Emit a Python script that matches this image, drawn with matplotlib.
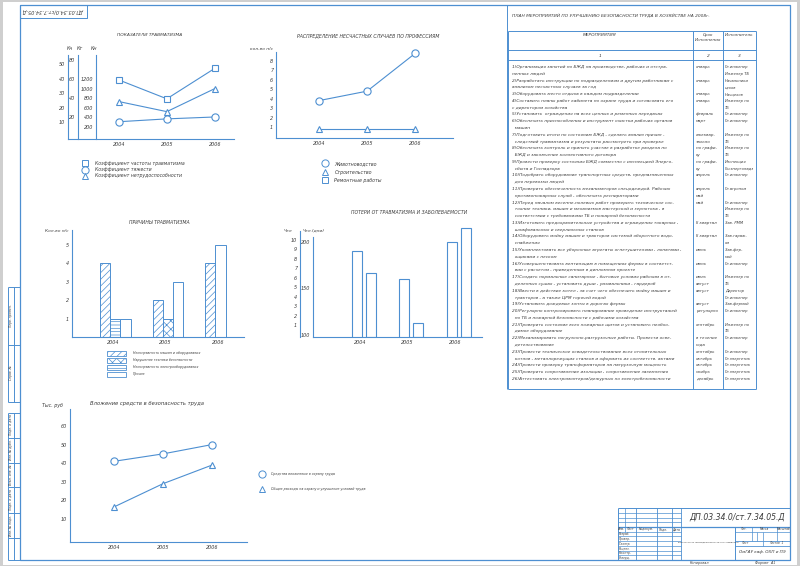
import matplotlib
matplotlib.use("Agg")
from matplotlib import pyplot as plt
from matplotlib import font_manager
from matplotlib.lines import Line2D
from matplotlib.patches import Patch, Rectangle

BLUE = "#4d8fd1"
INK = "#3c3c3c"

# ---------------- data ----------------
years = [2004, 2005, 2006]
year_labels = ["2004", "2005", "2006"]

# показатели травматизма
k_freq = [39, 26, 47]        # Кч
k_sev = [15, 18, 20]         # Кт
k_dis = [730, 520, 1000]     # Кн
ind_names = ["Коэффициент частоты травматизма", "Коэффициент тяжести",
             "Коэффициент нетрудоспособности"]

# распределение по профессиям
prof_livestock = [3.8, 4.8, 8.8]
prof_building = [0.8, 0.8, 0.8]
prof_names = ["Животноводство", "Строительство", "Ремонтные работы"]

# причины травматизма
cause_machines = [4, 2, 4]
cause_safety = [0, 1, 0]
cause_electric = [1, 0, 0]
cause_other = [1, 3, 5]
cause_names = ["Неисправность машин и оборудования", "Нарушение техники безопасности",
               "Неисправность электрооборудования", "Прочие"]

# потери от травматизма
loss_people = [8.8, 5.9, 9.8]       # чел
loss_days = [167, 113, 215]         # чел.(дни)

# вложение средств
inv_safety = [41, 45, 50]
inv_total = [16.5, 29, 39]
inv_names = ["Средства вложенные в охрану труда",
             "Общие расходы на охрану и улучшение условий труда"]

plan_title = "ПЛАН МЕРОПРИЯТИЙ ПО УЛУЧШЕНИЮ БЕЗОПАСНОСТИ ТРУДА В ХОЗЯЙСТВЕ НА 2008г."
measures = [
    "1)Организация занятий по БЖД на производстве, рабочих и отстра-",
    "ненных людей",
    "2)Разработать инструкции по подразделениям и другим работникам с",
    "анализом несчастных случаев за год",
    "3)Оборудовать место отдыха в каждом подразделении",
    "4)Составить планы работ кабинета по охране труда и согласовать его",
    "с директором хозяйства",
    "5)Установить  ограждения на всех цепных и ременных передачах",
    "6)Обеспечить приспособления и инструмент очистки рабочих органов",
    "  машин",
    "7)Подготовить итоги по состоянию БЖД , сделать анализ причин -",
    "  следствий травматизма и результаты рассмотреть при проверке",
    "8)Обеспечить контроль и принять участие в разработке раздела по",
    "  БЖД и заключение коллективного договора",
    "9)Провести проверку состояния БЖД совместно с инспекцией Энерго-",
    "  сбыта и Госнадзора",
    "10)Подобрать оборудование транспортных средств, предназначенных",
    "  для перевозки людей",
    "11)Проверить обеспеченность механизаторов спецодеждой. Рабочих",
    "  противопожарных служб , обеспечить респираторами",
    "12)Перед началом весенне-полевых работ проверить техническое сос-",
    "  тояние техники, машин и механизмов мастерской и зернотока , в",
    "  соответствии с требованиями ТБ и пожарной безопасности",
    "13)Изготовить предохранительные устройства и ограждения токарных ,",
    "  шлифовальных и сверлильных станков",
    "14)Оборудовать мойку машин и тракторов системой оборотного водо-",
    "  снабжения",
    "15)Укомплектовать все уборочные агрегаты огнетушителями , лопатами ,",
    "  ящиками с песком",
    "16)Усовершенствовать вентиляцию в помещениях фермы в соответст-",
    "  вии с расчетом , приведенным в дипломном проекте",
    "17)Создать нормальные санитарные , бытовые условия рабочим в от-",
    "  деленных сушах , установить души , умывальники , гардероб",
    "18)Ввести в действие котел , за счет чего обеспечить мойку машин и",
    "  тракторов , а также ЦРМ горячей водой",
    "19)Установить дождевые зонты в дорогах фермы",
    "20)Регулярно контролировать планирование проведение инструктажей",
    "  по ТБ и пожарной безопасности с рабочими хозяйства",
    "21)Проверить состояние всех пожарных щитов и установить необхо-",
    "  димое оборудование",
    "22)Механизировать погрузочно-разгрузочные работы. Провести осве-",
    "  детельствование",
    "23)Провести техническое освидетельствование всех отопительных",
    "  котлов , металлорежущих станков и оформить их соответств. актами",
    "24)Провести проверку трансформаторов на нагрузочную мощность",
    "25)Проверить сопротивление изоляции , сопротивление заземления",
    "26)Аттестовать электромонтеров/дежурных по электробезопасности",
]
terms = [
    "январь", "", "январь", "", "январь", "январь", "", "февраль", "март", "",
    "ежеквар-", "тально", "по графи-", "ку", "по графи-", "ку", "апрель", "", "апрель", "май",
    "май", "", "", "II квартал", "", "II квартал", "", "июнь", "", "июнь",
    "", "июль", "август", "август", "", "август", "регулярно", "", "сентябрь", "",
    "в течение", "года", "сентябрь", "октябрь", "октябрь", "ноябрь", "декабрь",
]
executors = [
    "Гл.инженер", "Инженер ТБ", "Начальники", "цехов", "Начцехов", "Инженер по", "ТБ",
    "Гл.инженер", "Гл.инженер", "", "Инженер по", "ТБ", "Инженер по", "ТБ", "Инспекция",
    "Госэнергонадз", "Гл.инженер", "", "Гл.агроном", "", "Гл.инженер", "Инженер по", "ТБ",
    "Зав. РММ", "", "Зав.гараж-", "ом", "Зав.фер-", "мой", "Гл.инженер", "", "Инженер по",
    "ТБ", "Директор", "Гл.инженер", "Зав.фермой", "Гл.инженер", "", "Инженер по", "ТБ",
    "Гл.инженер", "", "Гл.инженер", "Гл.энергетик", "Гл.энергетик", "Гл.энергетик",
    "Гл.энергетик",
]

# ---------------- fonts / figure ----------------
installed = {f.name for f in font_manager.fontManager.ttflist}
if "Liberation Sans Narrow" in installed:
    plt.rcParams["font.family"] = ["Liberation Sans Narrow", "DejaVu Sans"]
else:
    plt.rcParams["font.family"] = ["DejaVu Sans"]
plt.rcParams["font.style"] = "italic"
plt.rcParams["hatch.color"] = BLUE
plt.rcParams["hatch.linewidth"] = 0.5

W, H = 800, 566
fig = plt.figure(figsize=(8, 5.66), dpi=100, facecolor="#cfcfcf")
sheet = fig.add_axes([0, 0, 1, 1])
sheet.set_xlim(0, W)
sheet.set_ylim(H, 0)
sheet.axis("off")
sheet.add_patch(Rectangle((3, 2), 794, 563, facecolor="white", edgecolor="none"))


def line(xs, ys, lw=0.7):
    sheet.plot(xs, ys, color=BLUE, lw=lw, solid_capstyle="butt")


def note(x, y, s, size=3.4, ha="left", **kw):
    sheet.text(x, y, s, fontsize=size, color=INK, ha=ha, va="center", **kw)


def chart(box, xlim, ylim):
    x0, y0, x1, y1 = box
    ax = fig.add_axes([x0 / W, 1 - y1 / H, (x1 - x0) / W, (y1 - y0) / H])
    ax.patch.set_visible(False)
    ax.set_xlim(*xlim)
    ax.set_ylim(*ylim)
    for s in ("top", "right"):
        ax.spines[s].set_visible(False)
    for s in ("left", "bottom"):
        ax.spines[s].set_color(BLUE)
        ax.spines[s].set_linewidth(0.8)
    ax.tick_params(length=0, labelsize=3.5, labelcolor=INK, pad=2)
    ax.set_xticks(years, year_labels)
    return ax


def extra_axis(box, xlim, ylim, frac):
    ax = chart(box, xlim, ylim)
    ax.spines["bottom"].set_visible(False)
    ax.tick_params(axis="x", labelbottom=False)
    ax.spines["left"].set_position(("axes", frac))
    return ax


def mark(m, ms):
    return Line2D([], [], ls="none", marker=m, ms=ms, mfc="white", mec=BLUE, mew=0.7)


def legend(handles, labels, x, y, size, spacing, hl=1.0, hh=0.7, pad=1.4):
    fig.legend(handles, labels, loc="upper left", bbox_to_anchor=(x / W, 1 - y / H),
               frameon=False, fontsize=size, borderpad=0, borderaxespad=0,
               handlelength=hl, handleheight=hh, handletextpad=pad,
               labelspacing=spacing, labelcolor=INK)


style = dict(color=BLUE, lw=0.8, mfc="white", mec=BLUE, mew=0.8, clip_on=False)

# ---------------- sheet frame ----------------
line([20, 790, 790, 20, 20], [5, 5, 560, 560, 5], lw=0.9)
line([20, 87, 87], [18, 18, 5])
note(53, 11.5, "ДП.03.34.0/ст.7.34.05.Д", size=3.6, ha="center", rotation=180)

for x in (8, 14):
    line([x, x], [287, 402])
    line([x, x], [413, 560])
for y in (287, 345, 402, 413, 438, 463, 487, 513, 538, 560):
    line([8, 20], [y, y])
side_labels = [("Перв. примен.", 316), ("Справ. №", 373), ("Подп. и дата", 425),
               ("Инв. № дубл.", 450), ("Взам. инв. №", 475), ("Подп. и дата", 500),
               ("Инв. № подл.", 525), ("", 549)]
for s, y in side_labels:
    note(11, y, s, size=2.2, ha="center", rotation=90)

# ---------------- chart 1: показатели травматизма ----------------
box1 = (68, 55, 234, 139)
xl1 = (2002.94, 2006.4)
a1 = chart(box1, xl1, (-1.7, 56.2))
a1.set_yticks([10, 20, 30, 40, 50])
b1 = extra_axis(box1, xl1, (-3.2, 85.3), 0.06)
b1.set_yticks([20, 40, 60, 80])
c1 = extra_axis(box1, xl1, (-50, 1700), 0.169)
c1.set_yticks([200, 400, 600, 800, 1000, 1200])
a1.plot(years, k_freq, marker="s", ms=4, **style)
b1.plot(years, k_sev, marker="o", ms=5.2, **style)
c1.plot(years, k_dis, marker="^", ms=4.6, **style)
note(150, 35, "ПОКАЗАТЕЛИ ТРАВМАТИЗМА", size=3.2, ha="center")
for s, x in (("Кч", 70), ("Кт", 80), ("Кн", 94)):
    note(x, 48, s, size=3.4, ha="center")
legend([mark("s", 4), mark("o", 5.2), mark("^", 4.6)], ind_names, 83, 161, 3.3, 0.25, pad=1.6)

# ---------------- chart 2: по профессиям ----------------
a2 = chart((276, 52, 453, 138), (2003.10, 2006.79), (-0.17, 8.95))
a2.set_yticks(range(1, 9))
a2.plot(years, prof_livestock, marker="o", ms=5.2, **style)
a2.plot(years, prof_building, marker="^", ms=4.6, **style)
note(368, 36, "РАСПРЕДЕЛЕНИЕ НЕСЧАСТНЫХ СЛУЧАЕВ ПО ПРОФЕССИЯМ", size=3.3, ha="center")
note(262, 49, "кол-во н/с", size=3.2, ha="center")
legend([mark("o", 5.2), mark("^", 4.6), mark("s", 4)], prof_names, 323, 161, 3.4, 0.75)

# ---------------- chart 3: причины травматизма ----------------
a3 = chart((72, 230, 244, 337), (2003.217, 2006.49), (0, 5.8))
a3.set_yticks(range(1, 6))
bw = 0.194
causes = [cause_machines, cause_safety, cause_electric, cause_other]
hatches = ["/////", "xxxx", "-----", ""]
for i, yr in enumerate(years):
    slot = 0
    for vals, h in zip(causes, hatches):
        if vals[i] > 0:
            a3.bar(yr - 0.25 + (slot + 0.5) * bw, vals[i], width=bw, hatch=h,
                   facecolor="white", edgecolor=BLUE, lw=0.7)
            slot += 1
note(159, 223, "ПРИЧИНЫ ТРАВМАТИЗМА", size=3.3, ha="center")
note(57, 231, "Кол-во н/с", size=3.2, ha="center")
legend([Patch(facecolor="white", edgecolor=BLUE, hatch=h, lw=0.6) for h in hatches],
       cause_names, 107, 351, 2.3, 0.75, hl=5.9, hh=1.85, pad=2.2)

# ---------------- chart 4: потери ----------------
box4 = (313, 226, 482, 337)
xl4 = (2003.01, 2006.57)
a4 = chart(box4, xl4, (97.85, 217.2))
a4.set_yticks([100, 150, 200])
a4.spines["left"].set_bounds(97.85, 205)
b4 = extra_axis(box4, xl4, (-0.27, 11.48), -0.077)
b4.set_yticks(range(1, 11))
b4.spines["left"].set_bounds(-0.27, 10.9)
lw4 = 0.21
b4.bar([y - 0.063 for y in years], [v + 0.27 for v in loss_people], bottom=-0.27,
       width=lw4, facecolor="white", edgecolor=BLUE, lw=0.8)
a4.bar([y + 0.232 for y in years], [v - 97.85 for v in loss_days], bottom=97.85,
       width=lw4, facecolor="white", edgecolor=BLUE, lw=0.8)
note(409, 212, "ПОТЕРИ ОТ ТРАВМАТИЗМА И ЗАБОЛЕВАЕМОСТИ", size=3.3, ha="center")
note(288, 231, "Чел", size=3.2, ha="center")
note(314, 231, "Чел.(дни)", size=3.2, ha="center")

# ---------------- chart 5: вложение средств ----------------
a5 = chart((70, 409, 247, 542), (2003.10, 2006.71), (-2.37, 69.1))
a5.set_yticks([10, 20, 30, 40, 50, 60])
a5.plot(years, inv_safety, marker="o", ms=5.2, **style)
a5.plot(years, inv_total, marker="^", ms=4.6, **style)
note(147, 404, "Вложение средств в безопасность труда", size=3.8, ha="center")
note(52, 406, "Тыс. руб", size=3.4, ha="center")
legend([mark("o", 5.2), mark("^", 4.6)], inv_names, 259.5, 472, 2.3, 3.4, hl=1.5, pad=2.1)

# ---------------- plan table ----------------
line([507, 507], [5, 389])
note(512, 16, plan_title, size=3.2)
for x in (508, 693, 723, 756):
    line([x, x], [31, 389])
for y in (31, 50, 60, 389):
    line([508, 756], [y, y])
note(600, 35, "МЕРОПРИЯТИЯ", size=3.2, ha="center")
note(708, 35, "Срок", size=3.0, ha="center")
note(708, 40, "Исполнения", size=3.0, ha="center")
note(739, 35, "Исполнитель", size=3.0, ha="center")
for s, x in (("1", 600), ("2", 708), ("3", 739)):
    note(x, 56, s, size=3.2, ha="center")
for i, (m, t, e) in enumerate(zip(measures, terms, executors)):
    y = 67 + i * 6.78
    note(512, y, m, size=3.1)
    note(696, y, t, size=2.9)
    note(725, y, e, size=2.7)

# ---------------- title block ----------------
line([618, 790], [508, 508])
line([618, 618], [508, 560])
rows = [512.7, 517.5, 522.2, 531.6, 536.4, 541.1, 545.8, 550.5, 555.3]
for y in rows:
    line([618, 681], [y, y], lw=0.5)
line([618, 790], [526.9, 526.9], lw=0.9)
line([625, 625], [508, 531.6], lw=0.5)
for x in (636, 657, 672, 681):
    line([x, x], [508, 560], lw=0.6)
line([735, 735], [526.9, 560])
line([735, 790], [532, 532], lw=0.5)
line([735, 790], [541, 541], lw=0.6)
line([735, 790], [545.5, 545.5], lw=0.6)
for x in (752, 777):
    line([x, x], [526.9, 541], lw=0.5)
for x in (757, 763):
    line([x, x], [532, 541], lw=0.5)
line([763, 763], [541, 545.5], lw=0.5)
for s, x in (("Изм.", 621), ("Лист", 630), ("№ докум.", 646), ("Подп.", 664), ("Дата", 676)):
    note(x, 529.3, s, size=2.2, ha="center")
for s, y in zip(["Разраб.", "Провер.", "Т.контр.", "Реценз.", "Н.контр.", "Утверд."],
                [534, 538.7, 543.5, 548.2, 552.9, 557.6]):
    note(619, y, s, size=2.1)
note(737, 517, "ДП.03.34.0/ст.7.34.05.Д", size=5.6, ha="center")
note(708, 542, "Безопасность жизнедеятельности ГУП \"Приволье\"", size=1.65, ha="center")
for s, x in (("Лит.", 743), ("Масса", 765), ("Масштаб", 784)):
    note(x, 529.5, s, size=2.1, ha="center")
note(745, 543.3, "Лист", size=2.1, ha="center")
note(776, 543.3, "Листов  1", size=2.1, ha="center")
note(762, 552.5, "ОмГАУ каф. ОХП и ПЭ", size=3.0, ha="center")
note(700, 563, "Копировал", size=2.4, ha="center")
note(765, 563, "Формат  A1", size=2.4, ha="center")

fig.savefig("out.png", dpi=100, facecolor=fig.get_facecolor())
